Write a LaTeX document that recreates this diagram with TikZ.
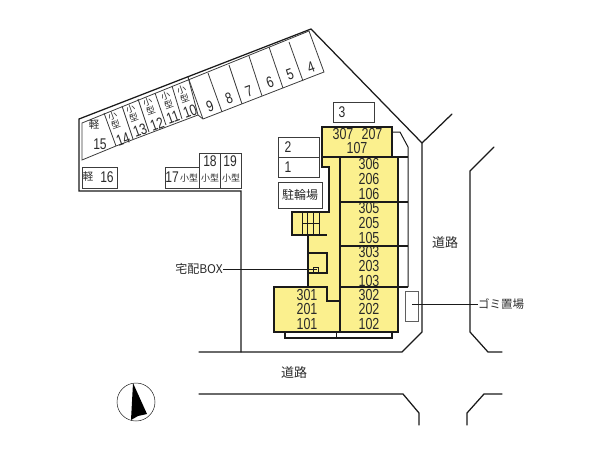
\documentclass[tikz,border=0pt]{standalone}
\usepackage{fontspec}
\setmainfont{Liberation Sans}
\newfontfamily\nar[FakeStretch=.78]{Liberation Sans}
\newfontfamily\jp{Noto Sans CJK JP}
\definecolor{bldg}{HTML}{FBF08E}
\definecolor{ink}{HTML}{1A1A1A}
\definecolor{txt}{HTML}{2A2A2A}
\tikzset{
  road/.style={draw=ink,line width=1.25pt,line cap=round,line join=miter},
  spot/.style={draw=ink!85,line width=.8pt},
  wall/.style={draw=ink,line width=1.2pt},
  thinwall/.style={draw=ink,line width=1pt},
  num/.style={inner sep=0pt,text=txt,font=\fontsize{16}{16}\selectfont\nar},
  snum/.style={num,font=\fontsize{15.5}{15.5}\selectfont\nar},
  jpl/.style={inner sep=0pt,text=txt,font=\fontsize{11.5}{12}\selectfont\jp},
  small/.style={inner sep=0pt,text=txt,align=center,font=\fontsize{9}{10}\selectfont\jp},
  leader/.style={draw=ink,line width=.9pt},
}
\begin{document}
\begin{tikzpicture}[x=1pt,y=-1pt]
\useasboundingbox (0,0) rectangle (600,450);
% site boundary
\draw[road] (452,114) -- (422,143) -- (422,332) -- (402,352) -- (199,352);
\draw[road] (422,143) -- (311,29) -- (79,119) -- (79,191) -- (241,191) -- (241,352);
% far side of the roads
\draw[road] (494,147) -- (470,171) -- (470,332) -- (488,352) -- (502,352);
\draw[road] (199,394) -- (403,394) -- (419,413) -- (419,425);
\draw[road] (467,425) -- (467,413) -- (484,394) -- (502,394);
% parking strip
\draw[spot] (309,31) -- (82,123) -- (82,160) -- (116,146) -- (198,115) -- (188,77);
\draw[spot] (198,115) -- (203,119) -- (324,72) -- (309,31);
\draw[spot] (289,42) -- (303,81);
\draw[spot] (269,47) -- (283,88);
\draw[spot] (249,56) -- (262,96);
\draw[spot] (229,65) -- (242,104);
\draw[spot] (208,73) -- (222,112);
\draw[spot] (188,77) -- (203,119);
\draw[spot] (104,113) -- (116,146);
\draw[spot] (122,106) -- (133,139);
\draw[spot] (138,99) -- (149,132);
\draw[spot] (155,93) -- (166,125);
\draw[spot] (172,86) -- (182,119);
\draw[spot] (82,167) rectangle (117,188);
\draw[spot] (165,167) rectangle (199,188);
\draw[spot] (199,153) rectangle (220,188);
\draw[spot] (220,153) rectangle (241,188);
\draw[spot] (333,102) rectangle (374,122);
\draw[spot] (278,137) rectangle (319,157);
\draw[spot] (278,157) rectangle (319,177);
\draw[spot] (278,182) rectangle (322,208);
% building
\draw[wall,fill=bldg,line join=miter] (322,127) -- (392,127) -- (392,157) -- (398,157) -- (398,332) -- (274,332) -- (274,287) -- (308,287) -- (308,235) -- (292,235) -- (292,212) -- (329,212) -- (329,167) -- (322,167) -- cycle;
\draw[wall] (322,157) -- (408,157);
\draw[wall] (340,157) -- (340,332);
\draw[wall] (340,202) -- (408,202);
\draw[wall] (340,246) -- (408,246);
\draw[wall] (340,287) -- (408,287);
\draw[wall] (308,287) -- (327,287) -- (327,301) -- (340,301);
\draw[thinwall] (392,132) -- (400,132) -- (408,147) -- (408,287);
\draw[wall] (285,332) -- (285,338) -- (392,338) -- (392,332);
\draw[thinwall] (336,332) -- (336,338);
% stairs
\draw[thinwall] (302,213) -- (302,235) (307,213) -- (307,235) (313,213) -- (313,235) (319,213) -- (319,235);
\draw[thinwall] (302,223) -- (319,223);
\draw[wall] (292,235) -- (327,235);
% delivery box
\draw[wall] (309,253) -- (327,253) -- (327,273) -- (309,273);
\draw[thinwall] (313,267) rectangle (318,273);
% rubbish store
\node[draw=ink!70,line width=.8pt,minimum width=13pt,minimum height=30pt,inner sep=0pt,anchor=north west] (gomibox) at (405,291) {};
% leaders
\node[jpl,font=\fontsize{12}{12}\selectfont\jp,anchor=east] (takuhai) at (223,269) {宅配BOX};
\node[jpl,anchor=west] (gomilabel) at (478,304) {ゴミ置場};
\coordinate (boxpt) at (317,269);
\coordinate (gomipt) at (412,304);
\draw[leader] (takuhai.east) -- (boxpt);
\draw[leader] (gomipt) -- (gomilabel.west);
\node[jpl,font=\fontsize{13}{13}\selectfont\jp] (road1) at (445,243) {道路};
\node[jpl,font=\fontsize{13}{13}\selectfont\jp] (road2) at (294,373) {道路};
% unit numbers
\node[num] (u307) at (343,134) {307};
\node[num] (u207) at (372,134) {207};
\node[num] (u107) at (357,148) {107};
\node[num] (u306) at (369,164) {306};
\node[num] (u206) at (369,179) {206};
\node[num] (u106) at (369,194) {106};
\node[num] (u305) at (369,208) {305};
\node[num] (u205) at (369,223) {205};
\node[num] (u105) at (369,238) {105};
\node[num] (u303) at (369,252) {303};
\node[num] (u203) at (369,266) {203};
\node[num] (u103) at (369,281) {103};
\node[num] (u302) at (369,295) {302};
\node[num] (u202) at (369,309) {202};
\node[num] (u102) at (369,324) {102};
\node[num] (u301) at (307,295) {301};
\node[num] (u201) at (307,309) {201};
\node[num] (u101) at (307,324) {101};
% parking labels
\node[snum,rotate=20] (p4) at (311,67) {4};
\node[snum,rotate=20] (p5) at (290,74) {5};
\node[snum,rotate=20] (p6) at (270,82) {6};
\node[snum,rotate=20] (p7) at (249,91) {7};
\node[snum,rotate=20] (p8) at (229,98) {8};
\node[snum,rotate=20] (p9) at (210,106) {9};
\node[snum,rotate=20] (p10) at (190,111) {10};
\node[snum,rotate=20] (p11) at (173,117) {11};
\node[snum,rotate=20] (p12) at (157,124) {12};
\node[snum,rotate=20] (p13) at (140,130) {13};
\node[snum,rotate=20] (p14) at (123,139) {14};
\node[small,rotate=20] (s10) at (183,94) {小\\型};
\node[small,rotate=20] (s11) at (167,100) {小\\型};
\node[small,rotate=20] (s12) at (149,106) {小\\型};
\node[small,rotate=20] (s13) at (132,113) {小\\型};
\node[small,rotate=20] (s14) at (114,120) {小\\型};
\node[snum] (p15) at (100,144) {15};
\node[small,font=\fontsize{10.5}{10.5}\selectfont\jp] (k15) at (94,125) {軽};
\node[small,font=\fontsize{10.5}{10.5}\selectfont\jp] (k16) at (88,177) {軽};
\node[snum] (p16) at (107,177) {16};
\node[snum] (p17) at (172,177) {17};
\node[small] (s17) at (189,178) {小型};
\node[snum] (p18) at (210,161) {18};
\node[small] (s18) at (210,178) {小型};
\node[snum] (p19) at (230,161) {19};
\node[small] (s19) at (231,178) {小型};
\node[snum] (p3) at (342,112) {3};
\node[snum] (p2) at (288,147) {2};
\node[snum] (p1) at (288,167) {1};
\node[jpl,font=\fontsize{12}{12}\selectfont\jp] (bike) at (300,195) {駐輪場};
% north mark
\draw[ink,line width=.5pt] (136,402) circle (19);
\fill[black] (133,383) -- (147,414) -- (138,416) -- (131,420) -- cycle;
\end{tikzpicture}
\end{document}
